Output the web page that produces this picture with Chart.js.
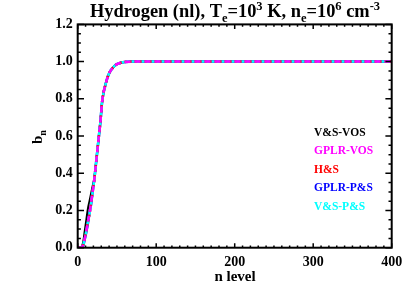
<!DOCTYPE html>
<html><head><meta charset="utf-8">
<script src="https://cdn.jsdelivr.net/npm/chart.js@4.4.0/dist/chart.umd.min.js"></script>
<style>html,body{margin:0;padding:0;background:#fff;}canvas{display:block;}</style>
</head><body>
<canvas id="c" width="415" height="297"></canvas>
<script>
// ---- data ----
const nLevels = [1, 3, 5, 7, 9, 11, 13, 15, 17, 19, 21, 23, 25, 27, 29, 31, 33, 35, 38, 41, 44, 47, 50, 55, 60, 70, 80, 100, 150, 200, 250, 300, 350, 400];
const bVSVOS   = [0, 0, 0.005, 0.03, 0.09, 0.15, 0.21, 0.25, 0.29, 0.33, 0.37, 0.44, 0.52, 0.60, 0.68, 0.78, 0.835, 0.87, 0.915, 0.945, 0.963, 0.977, 0.986, 0.994, 0.998, 1.0, 1.0, 1.0, 1.0, 1.0, 1.0, 1.0, 1.0, 1.0];
const bGPLRVOS = [0, 0, 0.003, 0.015, 0.05, 0.09, 0.14, 0.18, 0.24, 0.30, 0.36, 0.44, 0.52, 0.60, 0.68, 0.78, 0.835, 0.87, 0.915, 0.945, 0.963, 0.977, 0.986, 0.994, 0.998, 1.0, 1.0, 1.0, 1.0, 1.0, 1.0, 1.0, 1.0, 1.0];
const bHS      = [0, 0, 0.003, 0.015, 0.05, 0.09, 0.14, 0.18, 0.24, 0.30, 0.36, 0.44, 0.52, 0.60, 0.68, 0.78, 0.835, 0.87, 0.915, 0.945, 0.963, 0.977, 0.986, 0.994, 0.998, 1.0, 1.0, 1.0, 1.0, 1.0, 1.0, 1.0, 1.0, 1.0];
const bGPLRPS  = [0, 0, 0.003, 0.012, 0.045, 0.085, 0.13, 0.19, 0.23, 0.30, 0.36, 0.44, 0.52, 0.60, 0.68, 0.78, 0.835, 0.87, 0.915, 0.945, 0.963, 0.977, 0.986, 0.994, 0.998, 1.0, 1.0, 1.0, 1.0, 1.0, 1.0, 1.0, 1.0, 1.0];
const bVSPS    = [0, 0, 0.003, 0.015, 0.05, 0.09, 0.14, 0.18, 0.24, 0.30, 0.36, 0.44, 0.52, 0.60, 0.68, 0.78, 0.835, 0.87, 0.915, 0.945, 0.963, 0.977, 0.986, 0.994, 0.998, 1.0, 1.0, 1.0, 1.0, 1.0, 1.0, 1.0, 1.0, 1.0];
const seriesLabels = ['V&S-VOS', 'GPLR-VOS', 'H&S', 'GPLR-P&S', 'V&S-P&S'];
const xTicks = [0, 100, 200, 300, 400];
const yTicks = [0.0, 0.2, 0.4, 0.6, 0.8, 1.0, 1.2];

const FONT = '"Liberation Serif", "Times New Roman", serif';
const pts = arr => nLevels.map((n, i) => ({x: n, y: arr[i]}));

// draw order: higher "order" drawn first
const datasets = [
  {label: seriesLabels[0], data: pts(bVSVOS),   borderColor: '#000000', borderWidth: 2,   order: 5},
  {label: seriesLabels[1], data: pts(bGPLRVOS), borderColor: '#ff00ff', borderWidth: 2.5, borderDash: [6, 4], order: 1},
  {label: seriesLabels[2], data: pts(bHS),      borderColor: '#ff0000', borderWidth: 2.5, borderDash: [2, 3], order: 2},
  {label: seriesLabels[3], data: pts(bGPLRPS),  borderColor: '#0000ff', borderWidth: 2.5, order: 4},
  {label: seriesLabels[4], data: pts(bVSPS),    borderColor: '#00ffff', borderWidth: 2.5, order: 3}
].map(d => Object.assign(d, {pointRadius: 0, fill: false, cubicInterpolationMode: 'monotone'}));

function richText(ctx, parts, cx, baseY, size, align) {
  let w = 0;
  parts.forEach(p => {
    const s = p.s ? size * 0.68 : size;
    ctx.font = 'bold ' + s + 'px ' + FONT;
    p._w = ctx.measureText(p.t).width; p._s = s; w += p._w;
  });
  let x = align === 'center' ? cx - w / 2 : cx;
  ctx.textAlign = 'left'; ctx.textBaseline = 'alphabetic';
  parts.forEach(p => {
    ctx.font = 'bold ' + p._s + 'px ' + FONT;
    let dy = 0;
    if (p.s === 'sub') dy = size * 0.25;
    if (p.s === 'sup') dy = -size * 0.38;
    ctx.fillText(p.t, x, baseY + dy);
    x += p._w;
  });
}

const decor = {
  id: 'decor',
  afterDraw(chart) {
    const ctx = chart.ctx, a = chart.chartArea;
    const xs = chart.scales.x, ys = chart.scales.y;
    ctx.save();
    ctx.strokeStyle = '#000'; ctx.fillStyle = '#000';
    // ticks
    ctx.lineWidth = 1.5;
    ctx.beginPath();
    for (let v = 0; v <= 400; v += 10) {
      const px = xs.getPixelForValue(v);
      const len = (v % 100 === 0) ? 4.5 : 2.3;
      ctx.moveTo(px, a.bottom); ctx.lineTo(px, a.bottom - len);
      ctx.moveTo(px, a.top); ctx.lineTo(px, a.top + len);
    }
    for (let k = 0; k <= 24; k++) {
      const v = k * 0.05;
      const py = ys.getPixelForValue(v);
      const len = (k % 4 === 0) ? 6.3 : 3.2;
      ctx.moveTo(a.left, py); ctx.lineTo(a.left + len, py);
      ctx.moveTo(a.right, py); ctx.lineTo(a.right - len, py);
    }
    ctx.stroke();
    // box
    ctx.lineWidth = 2;
    ctx.strokeRect(a.left, a.top, a.right - a.left, a.bottom - a.top);
    // title
    richText(ctx, [
      {t: 'Hydrogen (nl), T'}, {t: 'e', s: 'sub'}, {t: '=10'}, {t: '3', s: 'sup'},
      {t: ' K, n'}, {t: 'e', s: 'sub'}, {t: '=10'}, {t: '6', s: 'sup'}, {t: ' cm'}, {t: '-3', s: 'sup'}
    ], 235, 17, 18.4, 'center');
    // y axis title
    ctx.save();
    ctx.translate(42, 137);
    ctx.rotate(-Math.PI / 2);
    richText(ctx, [{t: 'b'}, {t: 'n', s: 'sub'}], 0, 0, 15, 'center');
    ctx.restore();
    // x axis title
    ctx.font = 'bold 15px ' + FONT;
    ctx.textAlign = 'center'; ctx.textBaseline = 'middle';
    ctx.fillText('n level', 235, 277);
    // legend
    ctx.font = 'bold 11.5px ' + FONT;
    ctx.textAlign = 'left'; ctx.textBaseline = 'middle';
    const ly = [132.7, 151.2, 169.7, 188.3, 206.7];
    chart.data.datasets.forEach((d, i) => {
      ctx.fillStyle = d.borderColor;
      ctx.fillText(d.label, 314, ly[i]);
    });
    ctx.restore();
  }
};

new Chart(document.getElementById('c'), {
  type: 'line',
  data: {datasets},
  options: {
    responsive: false,
    animation: false,
    devicePixelRatio: 1,
    layout: {padding: {left: 0, right: 23.3, top: 24.4, bottom: 0}},
    plugins: {legend: {display: false}, title: {display: false}, tooltip: {enabled: false}},
    scales: {
      x: {
        type: 'linear', min: 0, max: 400,
        afterBuildTicks: s => { s.ticks = xTicks.map(v => ({value: v})); },
        afterFit: s => { s.height = 297 - 247.7; },
        grid: {display: false, drawTicks: false}, border: {display: false},
        ticks: {color: '#000', font: {family: FONT, size: 14, weight: 'bold'}, padding: 6, maxRotation: 0,
                callback: v => String(v)}
      },
      y: {
        type: 'linear', min: 0, max: 1.2,
        afterBuildTicks: s => { s.ticks = yTicks.map(v => ({value: v})); },
        afterFit: s => { s.width = 77.7; },
        grid: {display: false, drawTicks: false}, border: {display: false},
        ticks: {color: '#000', font: {family: FONT, size: 14, weight: 'bold'}, padding: 5,
                callback: v => Number(v).toFixed(1)}
      }
    }
  },
  plugins: [decor]
});
</script>
</body></html>
